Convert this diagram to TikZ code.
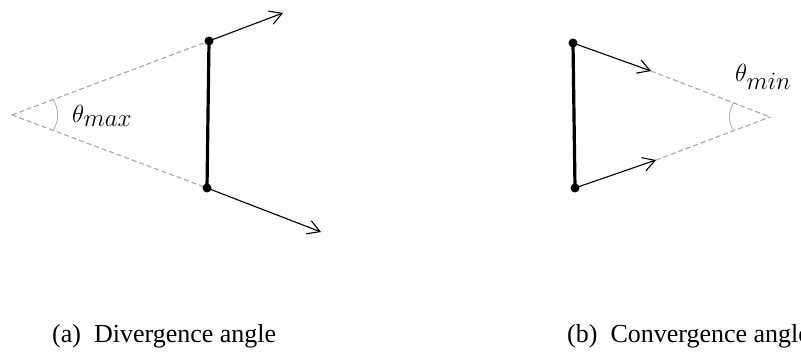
\documentclass[tikz,border=0pt]{standalone}
\usepackage{fontspec}
\setmainfont{Liberation Serif}
\usetikzlibrary{arrows.meta, calc}
\begin{document}
\begin{tikzpicture}[x=1pt, y=-1pt, line join=round, line cap=round, >={Straight Barb[length=12pt,width=14pt]}]
            \useasboundingbox (0,0) rectangle (801,352);
            \tikzset{
                guide/.style={gray!70, line width=1.1pt, dash pattern=on 4.5pt off 3.5pt},
                bow/.style={gray!60, line width=0.9pt, solid},
                rod/.style={line width=3.2pt},
                vel/.style={->, line width=1.1pt},
                angname/.style={font=\fontsize{29}{32}\selectfont, inner sep=0pt, anchor=base west},
                subcap/.style={font=\fontsize{26}{29}\selectfont, inner sep=0pt, anchor=base west}
            }
            % (a) divergence
            \path
            (12,115) coordinate (O)
            (209,41) coordinate (A)
            (207,188) coordinate (B)
            (283,13) coordinate (A')
            (321,232) coordinate (B')
            ;
            \draw[guide] (O)--(A) (O)--(B);
            \draw[bow] ($(O)!44pt!(A)$) to[bend left=30] ($(O)!44pt!(B)$);
            \draw[rod] (A)--(B);
            \draw[vel] (A)--(A');
            \draw[vel] (B)--(B');
            \node[angname] (tmax) at (72,123) {$\theta_{\textstyle max}$};
            
            % (b) convergence
            \path
            (770,117) coordinate (O2)
            (573,43) coordinate (C)
            (575,188) coordinate (D)
            (651,71) coordinate (C')
            (656,160) coordinate (D')
            ;
            \draw[guide] (C')--(O2) (D')--(O2);
            \draw[bow] ($(O2)!39pt!(C)$) to[bend right=30] ($(O2)!39pt!(D)$);
            \draw[rod] (C)--(D);
            \draw[vel] (C)--(C');
            \draw[vel] (D)--(D');
            \node[angname] (tmin) at (735,82) {$\theta_{\textstyle min}$};
            
            \foreach \i in {A, B, C, D}{
                \fill (\i) circle(4.5pt);
            }
            
            \node[subcap] (capa) at (52,343) {(a)\hspace{13pt}Divergence angle};
            \node[subcap] (capb) at (567,343) {(b)\hspace{13pt}Convergence angle};
        \end{tikzpicture}
\end{document}
